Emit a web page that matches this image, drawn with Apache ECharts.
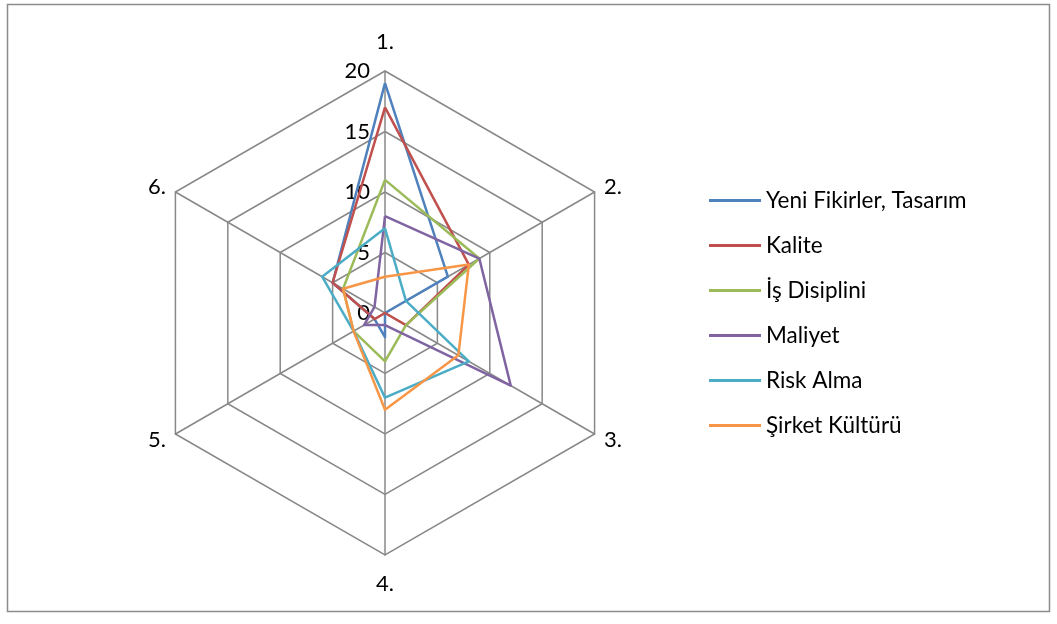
<!DOCTYPE html>
<html>
<head>
<meta charset="utf-8">
<title>Radar</title>
<script src="https://cdn.jsdelivr.net/npm/echarts@6/dist/echarts.min.js"></script>
<style>
  html, body { margin: 0; padding: 0; background: #ffffff; }
  #chart { width: 1057px; height: 624px; }
</style>
</head>
<body>
<div id="chart"></div>
<script>
// Axis names around the hexagon, clockwise from the top
const axisNames = ['1.', '2.', '3.', '4.', '5.', '6.'];
const axisMax = 20;
const tickCount = 4; // rings at 0, 5, 10, 15, 20

// Scores per axis, in the order 1. .. 6.
const seriesNames = ['Yeni Fikirler, Tasarım', 'Kalite', 'İş Disiplini', 'Maliyet', 'Risk Alma', 'Şirket Kültürü'];
const yeniFikirler = [19, 6, 0, 2, 1, 5];
const kalite       = [17, 8, 2, 0, 1, 5];
const isDisiplini  = [11, 9, 2, 4, 3, 4];
const maliyet      = [8, 9, 12, 1, 2, 1];
const riskAlma     = [7, 2, 8, 7, 3, 6];
const sirketKultur = [3, 8, 7, 8, 3, 4];

const seriesValues = [yeniFikirler, kalite, isDisiplini, maliyet, riskAlma, sirketKultur];
const colors = ['#4F81BD', '#C0504D', '#9BBB59', '#8064A2', '#4BACC6', '#F79646'];

// ECharts lays radar indicators out counter-clockwise; walk the axes
// in reverse after the first so 1..6 run clockwise.
const order = [0, 5, 4, 3, 2, 1];

const FONT = 'Lato, "Open Sans", "Liberation Sans", sans-serif';
const GRID = '#888888';

const indicators = order.map((k) => {
  const ind = { name: axisNames[k], max: axisMax, min: 0 };
  // top and bottom names sit a little further out than the side ones
  ind.nameGap = (k === 0 || k === 3) ? 18 : 11;
  if (k === 0) {
    // value labels only along the vertical axis
    ind.axisLabel = {
      show: true,
      color: '#000',
      fontFamily: FONT,
      fontSize: 22,
      margin: 15
    };
  }
  return ind;
});

const chart = echarts.init(document.getElementById('chart'), null, { renderer: 'canvas' });

chart.setOption({
  animation: false,
  backgroundColor: '#ffffff',
  color: colors,
  graphic: [{
    type: 'rect',
    shape: { x: 7.5, y: 4.5, width: 1042, height: 607 },
    style: { fill: 'none', stroke: '#8c8c8c', lineWidth: 1.5 },
    silent: true
  }],
  legend: {
    orient: 'vertical',
    left: 709,
    top: 188,
    padding: 0,
    icon: 'rect',
    itemWidth: 52,
    itemHeight: 3,
    itemGap: 20,
    textStyle: { color: '#000', fontFamily: FONT, fontSize: 22.5, lineHeight: 25, padding: [0, 0, 0, 0] },
    data: seriesNames
  },
  radar: {
    center: [385, 313],
    radius: 242,
    startAngle: 90,
    shape: 'polygon',
    splitNumber: tickCount,
    indicator: indicators,
    axisName: { color: '#000', fontFamily: FONT, fontSize: 22 },
    nameGap: 11,
    axisLine: { show: true, lineStyle: { color: GRID, width: 1.5 } },
    axisTick: { show: false },
    axisLabel: { show: false },
    splitLine: { show: true, lineStyle: { color: GRID, width: 1.5 } },
    splitArea: { show: false }
  },
  series: [{
    type: 'radar',
    symbol: 'none',
    data: seriesValues.map((vals, i) => ({
      name: seriesNames[i],
      value: order.map((k) => vals[k]),
      lineStyle: { color: colors[i], width: 2.5 },
      itemStyle: { color: colors[i] }
    }))
  }]
});
</script>
</body>
</html>
